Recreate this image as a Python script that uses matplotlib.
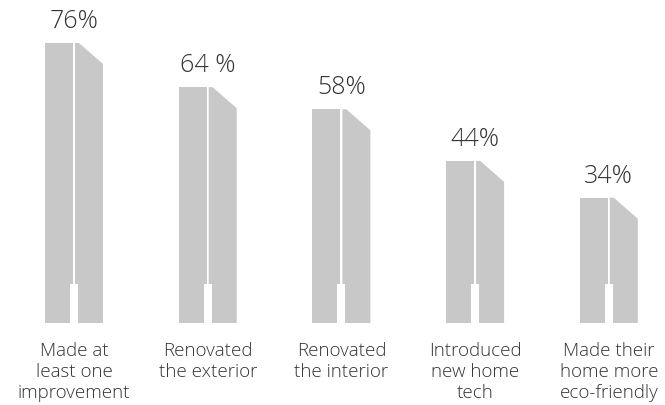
import matplotlib
matplotlib.use("Agg")
import matplotlib.pyplot as plt
from matplotlib.patches import Polygon, Rectangle
import numpy as np

categories = ["Made at\nleast one\nimprovement", "Renovated\nthe exterior",
              "Renovated\nthe interior", "Introduced\nnew home\ntech",
              "Made their\nhome more\neco-friendly"]
values = [76, 64, 58, 44, 34]
value_labels = ["76%", "64 %", "58%", "44%", "34%"]

W, H = 665, 405
BAR_COLOR = "#c8c8c8"
TEXT_COLOR = "#333333"
FONT = "Open Sans"

# layout in pixels, converted to data units below
PX_PER_PCT = 280 / 76
BASE_PX = 323
X0_PX, STEP_PX = 74, 133.7

fig = plt.figure(figsize=(W / 100, H / 100), dpi=100)
ax = fig.add_axes([0, 0, 1, 1])
ax.set_xlim(-X0_PX / STEP_PX, (W - X0_PX) / STEP_PX)
ax.set_ylim(-(H - BASE_PX) / PX_PER_PCT, BASE_PX / PX_PER_PCT)
ax.axis("off")

px_x = 1 / STEP_PX
px_y = 1 / PX_PER_PCT
half = 29 * px_x
gap = 1 * px_x
slot_w = 4 * px_x
slot_h = 39 * px_y
cut_x = 4 * px_x
cut_y = 21 * px_y

for i, (v, lab, cat) in enumerate(zip(values, value_labels, categories)):
    c = i
    ax.add_patch(Rectangle((c - half, 0), half - gap, v, color=BAR_COLOR, lw=0))
    ax.add_patch(Polygon([(c + gap, 0), (c + half, 0), (c + half, v - cut_y),
                          (c + gap + cut_x, v), (c + gap, v)],
                         closed=True, color=BAR_COLOR, lw=0))
    ax.add_patch(Rectangle((c - slot_w, 0), 2 * slot_w, slot_h, color="white", lw=0))
    ax.text(c, v + 15 * px_y, lab, ha="center", va="baseline", fontsize=18,
            family=FONT, weight="light", color=TEXT_COLOR)
    ax.text(c, -19 * px_y, cat, ha="center", va="top", fontsize=13.5,
            family=FONT, weight="light", color=TEXT_COLOR, linespacing=1.2)

fig.savefig("out.png", dpi=100)
